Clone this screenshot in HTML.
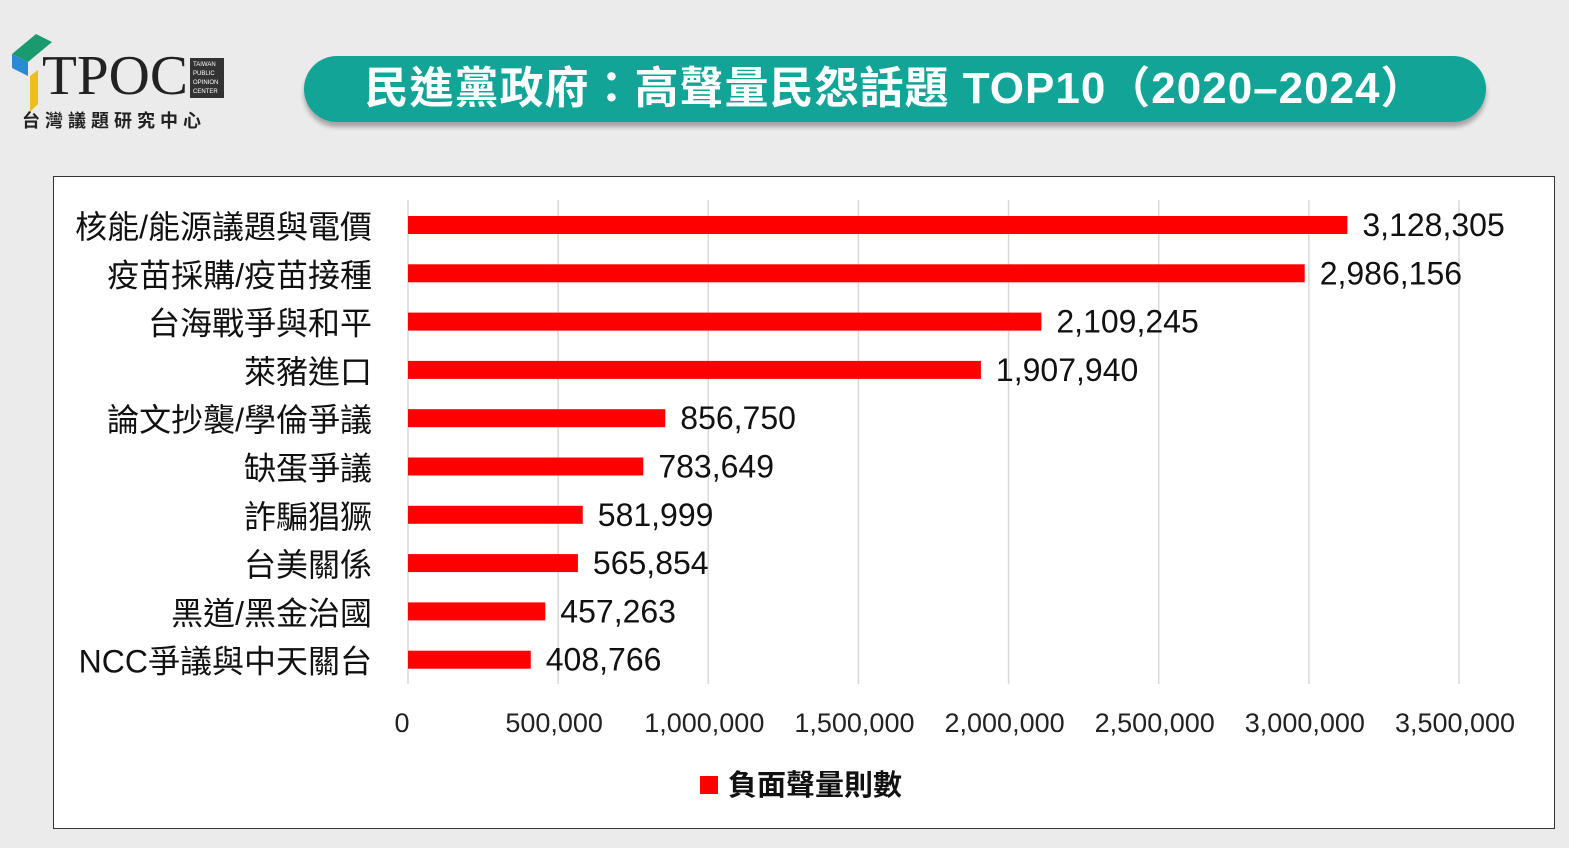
<!DOCTYPE html>
<html><head><meta charset="utf-8"><style>
body{margin:0;width:1569px;height:848px;background:#ebebeb;overflow:hidden;font-family:"Liberation Sans","Noto Sans CJK TC",sans-serif;position:relative}
#title{position:absolute;left:304px;top:56px;width:1182px;height:66px;background:#11a497;border-radius:33px;box-shadow:0 5px 5px rgba(0,0,0,.3);color:#fff;font-weight:bold;font-size:44px;letter-spacing:1px;line-height:66px;text-align:center;font-family:"Liberation Sans","Noto Sans CJK TC",sans-serif}
#frame{position:absolute;left:53px;top:176px;width:1500px;height:651px;background:#fff;border:1.5px solid #333}
</style></head><body>
<div style="position:absolute;left:8px;top:32px;width:220px;height:100px">
<svg width="220" height="100"><polygon points="4,22 28,2 44,10 20,30" fill="#199a6f"/><polygon points="4,22 20,30 20,44 4,36" fill="#2a8ad4"/><polygon points="22,44 30,38 30,72 22,80" fill="#e8c21a"/>
<text x="34" y="62" font-family="Liberation Serif" font-size="56" fill="#222" textLength="146" lengthAdjust="spacingAndGlyphs">TPOC</text>
<rect x="182" y="26" width="34" height="40" fill="#333"/><text x="185" y="34" font-size="6" fill="#fff">TAIWAN</text><text x="185" y="43" font-size="6" fill="#fff">PUBLIC</text><text x="185" y="52" font-size="6" fill="#fff">OPINION</text><text x="185" y="61" font-size="6" fill="#fff">CENTER</text>
<text x="14" y="95" font-size="18" font-weight="bold" fill="#222" letter-spacing="5">台灣議題研究中心</text></svg></div>
<div id="title">民進黨政府：高聲量民怨話題 TOP10（2020–2024）</div>
<div id="frame"></div>
<svg id="chart" width="1569" height="848" style="position:absolute;left:0;top:0"></svg>
<script>
const categories=["核能/能源議題與電價","疫苗採購/疫苗接種","台海戰爭與和平","萊豬進口","論文抄襲/學倫爭議","缺蛋爭議","詐騙猖獗","台美關係","黑道/黑金治國","NCC爭議與中天關台"];
const values=[3128305,2986156,2109245,1907940,856750,783649,581999,565854,457263,408766];
const ticks=[0,500000,1000000,1500000,2000000,2500000,3000000,3500000];
const tickLabels=["0","500,000","1,000,000","1,500,000","2,000,000","2,500,000","3,000,000","3,500,000"];
const svg=document.getElementById('chart');const NS="http://www.w3.org/2000/svg";
const x=v=>408+v/3500000*1051;const y=i=>225+i*48.3;
function mk(t,a,txt){const e=document.createElementNS(NS,t);for(const k in a)e.setAttribute(k,a[k]);if(txt!=null)e.textContent=txt;svg.appendChild(e);return e;}
ticks.forEach((t,i)=>{
const g=mk('line',{x1:x(t),x2:x(t),y1:200,y2:684,stroke:'#d9d9d9','stroke-width':1.5});


const l=mk('text',{x:x(t)-(i==0?6:4),y:732,'text-anchor':'middle','font-size':27,fill:'#222'},tickLabels[i]);


});
categories.forEach((c,i)=>{
const b=mk('rect',{x:x(0),y:y(i)-9,width:x(values[i])-x(0),height:18,fill:'#ff0000'});


const l=mk('text',{x:372,y:y(i)+13,'text-anchor':'end','font-size':32,fill:'#111'},c);


const v=mk('text',{x:x(values[i])+15,y:y(i)+11,'font-size':32,fill:'#111'},values[i].toLocaleString('en-US'));


});
const ls=mk('rect',{x:700,y:776,width:18,height:18,fill:'#ff0000'});


const lt=mk('text',{x:728,y:795,'font-size':29,'font-weight':'bold',fill:'#111'},'負面聲量則數');


</script>
</body></html>
